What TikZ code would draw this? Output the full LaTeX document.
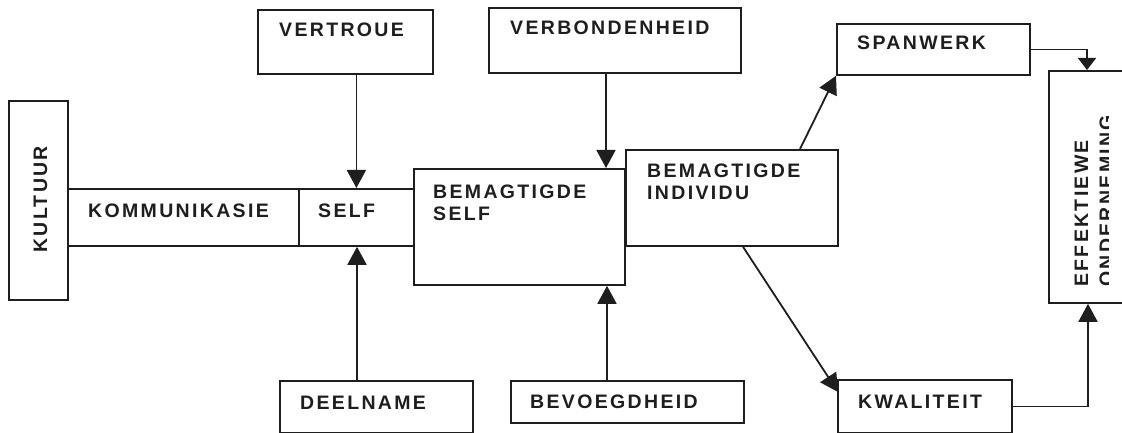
\documentclass[tikz,border=0pt]{standalone}
\usepackage{fontspec}
\setmainfont{Liberation Sans}[LetterSpace=12,BoldFont={Liberation Sans Bold}]
\usetikzlibrary{arrows.meta}
\definecolor{ink}{HTML}{1E1E1E}
\begin{document}
\begin{tikzpicture}[x=1pt,y=-1pt,
  box/.style={draw=ink,line width=1.8pt,anchor=north west,inner sep=0pt},
  lbl/.style={anchor=base west,inner sep=0pt,text=ink,font=\bfseries\fontsize{19.5}{22}\selectfont,align=left},
  arr/.style={draw=ink,line width=1.8pt,-{Triangle[length=18pt,width=19pt]}},
  arrs/.style={draw=ink,line width=1.5pt,-{Triangle[length=12pt,width=18pt]}}]
\useasboundingbox (0,0) rectangle (1122,433);
% boxes
\node[box,minimum width=59pt,minimum height=199pt] (kultuur) at (8,100) {};
\node[box,minimum width=231pt,minimum height=57pt] (kom) at (67,188) {};
\node[box,minimum width=115pt,minimum height=57pt] (self) at (298,188) {};
\node[box,minimum width=211pt,minimum height=116pt] (bself) at (413,168) {};
\node[box,minimum width=212pt,minimum height=96pt] (indiv) at (625,149) {};
\node[box,minimum width=175pt,minimum height=64pt] (vertroue) at (257,9) {};
\node[box,minimum width=252pt,minimum height=65pt] (verbond) at (488,7) {};
\node[box,minimum width=193pt,minimum height=52pt] (deelname) at (279,380) {};
\node[box,minimum width=233pt,minimum height=42pt] (bevoeg) at (510,380) {};
\node[box,minimum width=193pt,minimum height=51pt] (span) at (836,23) {};
\node[box,minimum width=174pt,minimum height=53pt] (kwal) at (837,379) {};
\node[box,minimum width=100pt,minimum height=232pt] (eff) at (1048,70) {};
% texts
\node[lbl,rotate=90] (tkultuur) at (47,253) {KULTUUR};
\node[lbl] (tkom) at (88,217) {KOMMUNIKASIE};
\node[lbl] (tself) at (318,217) {SELF};
\node[lbl] (tbself) at (433,220) {BEMAGTIGDE\\SELF};
\node[lbl] (tindiv) at (647,200) {BEMAGTIGDE\\INDIVIDU};
\node[lbl] (tvertroue) at (279,37) {VERTROUE};
\node[lbl] (tverbond) at (510,35) {VERBONDENHEID};
\node[lbl] (tdeelname) at (300,409) {DEELNAME};
\node[lbl] (tbevoeg) at (530,408) {BEVOEGDHEID};
\node[lbl] (tspan) at (857,50) {SPANWERK};
\node[lbl] (tkwal) at (858,408) {KWALITEIT};
\begin{scope}
  \clip (1050,72) rectangle (1108,300);
  \node[lbl,rotate=90] (teff1) at (1088,287) {EFFEKTIEWE};
  \node[lbl,rotate=90] (teff2) at (1113,287) {ONDERNEMING};
\end{scope}
% connectors
\draw[arr] (self.north |- vertroue.south) -- (self.north);
\draw[arr] (verbond.south -| 606,0) -- (bself.north -| 606,0);
\draw[arr] (deelname.north -| 357,0) -- (self.south -| 357,0);
\draw[arr] (bevoeg.north -| 607,0) -- (bself.south -| 607,0);
\coordinate (i1) at (indiv.north -| 800,0);
\draw[arr] (i1) -- (span.south west);
\coordinate (i2) at (indiv.south -| 743,0);
\coordinate (k1) at (838,392);
\draw[arr] (i2) -- (k1);
\draw[arrs] (span.east) -| (eff.north -| 1087,0);
\draw[arr] (kwal.east) -| (eff.south -| 1088,0);
\end{tikzpicture}
\end{document}
